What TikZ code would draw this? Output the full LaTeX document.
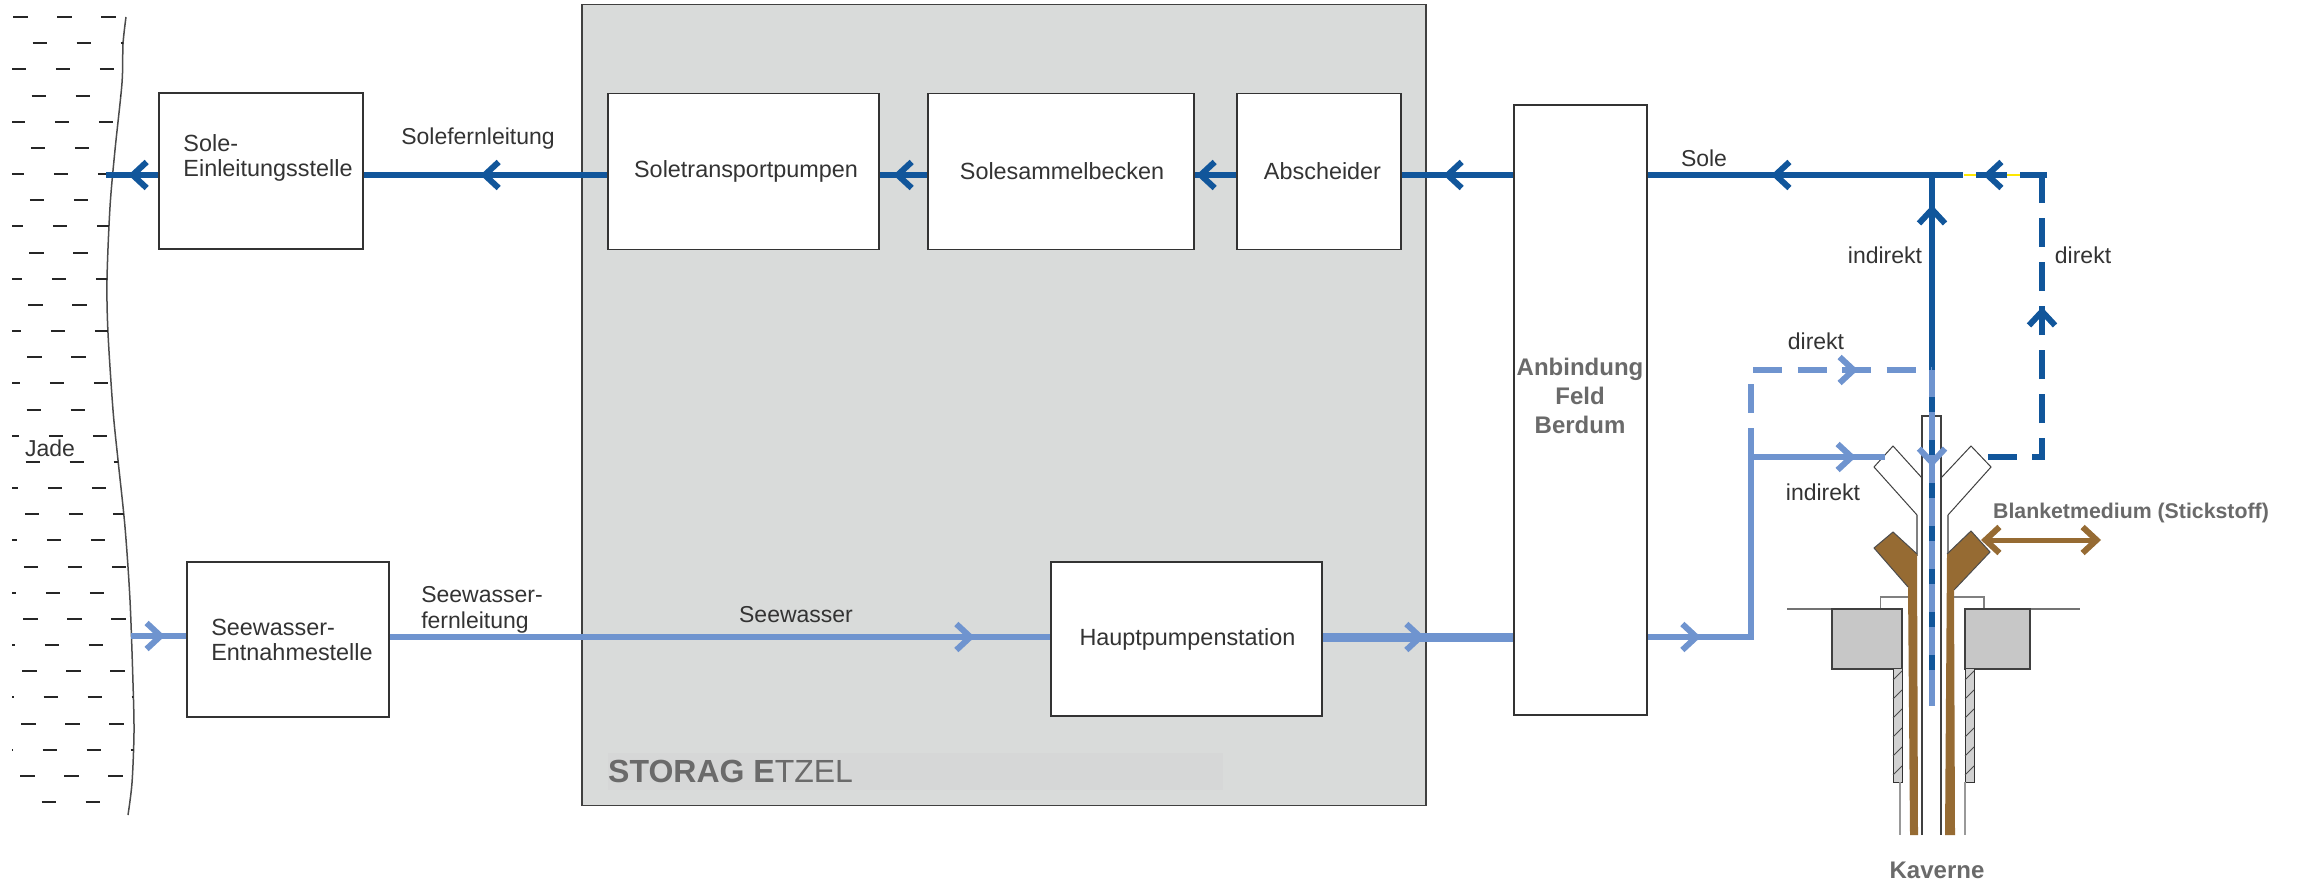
\documentclass[tikz,border=0pt]{standalone}
\usepackage{fontspec}
\setmainfont{Liberation Sans}
\usetikzlibrary{arrows.meta,decorations.markings}
\definecolor{soleblue}{HTML}{11569B}
\definecolor{seeblue}{HTML}{6F94CF}
\definecolor{blanketbrown}{HTML}{966B33}
\definecolor{etzelgrey}{HTML}{D9DBDA}
\definecolor{etzelband}{HTML}{D6D7D7}
\definecolor{greytext}{HTML}{6A6A6A}
\definecolor{inktext}{HTML}{333333}
\tikzset{
  barb/.tip={Straight Barb[length=14pt,width=26pt,line width=6pt]},
  unitbox/.style={draw=black!80,line width=1.5pt,fill=white,inner sep=0pt,text=inktext,align=left,font=\fontsize{23.4}{25}\selectfont},
  tag/.style={inner sep=0pt,text=inktext,align=left,font=\fontsize{23}{26}\selectfont},
  greytag/.style={inner sep=0pt,text=greytext,align=center,font=\fontsize{24}{29}\selectfont\bfseries},
  solepipe/.style={draw=soleblue,line width=5.5pt},
  seepipe/.style={draw=seeblue,line width=5.5pt},
  flowtip/.style={postaction={decorate,decoration={markings,mark=at position #1pt with {\arrow{barb}}}}},
  plainline/.style={draw=black!75,line width=1.5pt},
}
\begin{document}
\begin{tikzpicture}[x=1pt,y=-1pt]
\useasboundingbox (0,0) rectangle (2298,885);
% water
\draw[line width=1.5pt,black!70] plot[smooth] coordinates {(126,17)(123,44)(122,83)(115,150)(110,207)(107,280)(108,333)(113,410)(118,460)(125,527)(130,600)(133,683)(134,733)(132,783)(128,815)};
\begin{scope}
\clip (12,0)--(127,0)--plot[smooth] coordinates {(126,17)(123,44)(122,83)(115,150)(110,207)(107,280)(108,333)(113,410)(118,460)(125,527)(130,600)(133,683)(134,733)(132,783)(128,815)}--(12,815)--cycle;
\foreach \r in {0,2,...,30}{
  \pgfmathsetmacro{\yy}{17+26.17*\r}\pgfmathsetmacro{\xx}{13-.0195*(\yy-17)}
  \foreach \k in {0,1,2,3}{\draw[line width=2pt,black!85] (\xx+44*\k,\yy)--++(14.5,0);}
}
\foreach \r in {1,3,...,29}{
  \pgfmathsetmacro{\yy}{17+26.17*\r}\pgfmathsetmacro{\xx}{33-.0165*(\yy-17)}
  \foreach \k in {0,1,2}{\draw[line width=2pt,black!85] (\xx+44*\k,\yy)--++(14.5,0);}
}
\end{scope}
\node[tag](jade) at(50,448){Jade};
% plant area
\node[draw=black!75,line width=1.5pt,fill=etzelgrey,minimum width=844pt,minimum height=801pt,inner sep=0pt](etzel) at(1004,405){};
\fill[etzelband] (608,753) rectangle (1223,790);
\node[inner sep=0pt,anchor=west,text=greytext,font=\fontsize{32}{34}\selectfont](etzelname) at(608,771){\textbf{STORAG E}TZEL};
% boxes
\node[unitbox,minimum width=204pt,minimum height=156pt](einleitung) at(261,171){\hspace*{14pt}Sole-\\\hspace*{14pt}Einleitungsstelle\\[5pt]};
\node[unitbox,minimum width=271pt,minimum height=156pt](transport) at(743.5,171.5){\hspace*{5pt}\raisebox{-3pt}{Soletransportpumpen}};
\node[unitbox,minimum width=266pt,minimum height=156pt](sammel) at(1061,171.5){\hspace*{2pt}Solesammelbecken};
\node[unitbox,minimum width=164pt,minimum height=156pt](abscheider) at(1319,171.5){\hspace*{7pt}Abscheider};
\node[unitbox,minimum width=202pt,minimum height=155pt](entnahme) at(288,639.5){\hspace*{8pt}Seewasser-\\\hspace*{8pt}Entnahmestelle};
\node[unitbox,minimum width=271pt,minimum height=154pt](hauptpumpe) at(1186.5,639){\hspace*{2pt}\raisebox{-3pt}{Hauptpumpenstation}};
\node[draw=black!80,line width=1.5pt,fill=white,minimum width=133pt,minimum height=610pt,inner sep=0pt](anbindung) at(1580.5,410){};
\node[greytag](anbindungname) at(1580,396){Anbindung\\Feld\\Berdum};
% reference rows and pipe ends
\coordinate (solerow) at(0,175);\coordinate (seerow) at(0,637);
\coordinate (jadeout) at(106,175);\coordinate (jadein) at(131,636);
\coordinate (soleknoten) at(1932,175);\coordinate (kopfmitte) at(1932,370);
\coordinate (sohle) at(1932,706);\coordinate (seeknoten) at(1751,637);
\coordinate (seeabzweig) at(1751,457);\coordinate (seeecke) at(1751,370);
\coordinate (seeflansch) at(1885,457);\coordinate (soleflansch) at(1988,457);
\coordinate (soleecke) at(2042,457);\coordinate (soleoben) at(2042,175);
\coordinate (soleoben2) at(2047,175);
% cavern head
\draw[plainline,line width=1pt,fill=white] (1917,515)--(1874,467)--(1893,446)--(1922,478);
\draw[plainline,line width=1pt,fill=white] (1948,515)--(1991,467)--(1971,446)--(1941,478);
\draw[line width=1.2pt,black!50] (1917,515)--(1917,556) (1948,515)--(1948,556);
\fill[blanketbrown] (1908,587)--(1874,548)--(1893,532)--(1917,554)--(1918,835)--(1910,835)--cycle;
\fill[blanketbrown] (1947,554)--(1971,531)--(1990,552)--(1954,590)--(1955,835)--(1945,835)--cycle;
\draw[line width=1pt,black!70] (1908,587)--(1874,548)--(1893,532)--(1917,554);
\draw[line width=1pt,black!70] (1947,554)--(1971,531)--(1990,552)--(1954,590);
\draw[plainline,fill=white] (1922,835)--(1922,416)--(1941,416)--(1941,835);
\draw[line width=1.2pt,black!50] (1880.5,609)--(1880.5,597)--(1908,597) (1954,597)--(1984,597)--(1984,609);
\draw[line width=1.2pt,black!55] (1787,609)--(1832,609) (2030,609)--(2080,609);
\draw[plainline,fill=black!22] (1832,609) rectangle (1902,669);
\draw[plainline,fill=black!22] (1965,609) rectangle (2030,669);
\foreach \hx in {1893,1965}{
  \fill[black!18] (\hx,669) rectangle ++(9,113);
  \draw[line width=1pt,black!80] (\hx,669)--(\hx,782)--(\hx+9,782)--(\hx+9,669);
  \foreach \h in {0,...,5}{\draw[line width=1pt,black!70] (\hx,680+19*\h)--++(9,-9);}
}
\draw[line width=1.5pt,black!40] (1900,782)--(1900,835) (1965,782)--(1965,835);
% brine side
\draw[solepipe,flowtip=161] (soleknoten)--(anbindung.east|-solerow);
\draw[solepipe,flowtip=70] (anbindung.west|-solerow)--(abscheider.east|-solerow);
\draw[solepipe,flowtip=40] (abscheider.west|-solerow)--(sammel.east|-solerow);
\draw[solepipe,flowtip=34] (sammel.west|-solerow)--(transport.east|-solerow);
\draw[solepipe,flowtip=127] (transport.west|-solerow)--(einleitung.east|-solerow);
\draw[solepipe,flowtip=30] (einleitung.west|-solerow)--(jadeout);
\draw[solepipe,flowtip=165] (kopfmitte)--(soleknoten);
\draw[solepipe,dash pattern=on 29pt off 15pt,flowtip=204] (soleflansch)--(soleecke)--(soleoben);
\draw[yellow!90!orange,line width=1.5pt] (1964,175)--(2020,175);
\draw[solepipe,dash pattern=on 31pt off 13pt,dash phase=4pt,flowtip=64] (soleoben2)--(soleknoten);
% sea water side
\draw[seepipe,flowtip=34] (jadein)--(entnahme.west|-jadein);
\draw[seepipe,flowtip=585] (entnahme.east|-seerow)--(hauptpumpe.west|-seerow);
\draw[seepipe,line width=9pt,flowtip=102] (hauptpumpe.east|-seerow)--(anbindung.west|-seerow);
\draw[seepipe,flowtip=53] (anbindung.east|-seerow)--(seeknoten)--(seeabzweig);
\draw[seepipe,flowtip=105] (seeabzweig)--(seeflansch);
\draw[seepipe,dash pattern=on 29pt off 15.5pt,flowtip=194] (seeabzweig)--(seeecke)--(kopfmitte);
\draw[seepipe,flowtip=97] (kopfmitte)--(sohle);
\draw[solepipe,dash pattern=on 15pt off 28pt] (1932,670)--(1932,397);
% blanket
\coordinate (blanketlinks) at(1981,540);\coordinate (blanketrechts) at(2101,540);
\draw[draw=blanketbrown,line width=5pt,{barb}-{barb}] (blanketlinks)--(blanketrechts);
% labels
\node[tag](solefern) at(478,139){Solefernleitung};
\node[tag](sole) at(1704,158){Sole};
\node[tag](indirekta) at(1885,255){indirekt};
\node[tag](direkta) at(2083,255){direkt};
\node[tag](direktb) at(1816,341){direkt};
\node[tag](indirektb) at(1823,492){indirekt};
\node[tag](seefern) at(482,610){Seewasser-\\fernleitung};
\node[tag](seewasser) at(796,615){Seewasser};
\node[greytag,font=\fontsize{21.3}{24}\selectfont\bfseries](blanket) at(2131,513){Blanketmedium (Stickstoff)};
\node[greytag](kaverne) at(1937,870){Kaverne};
\end{tikzpicture}
\end{document}
